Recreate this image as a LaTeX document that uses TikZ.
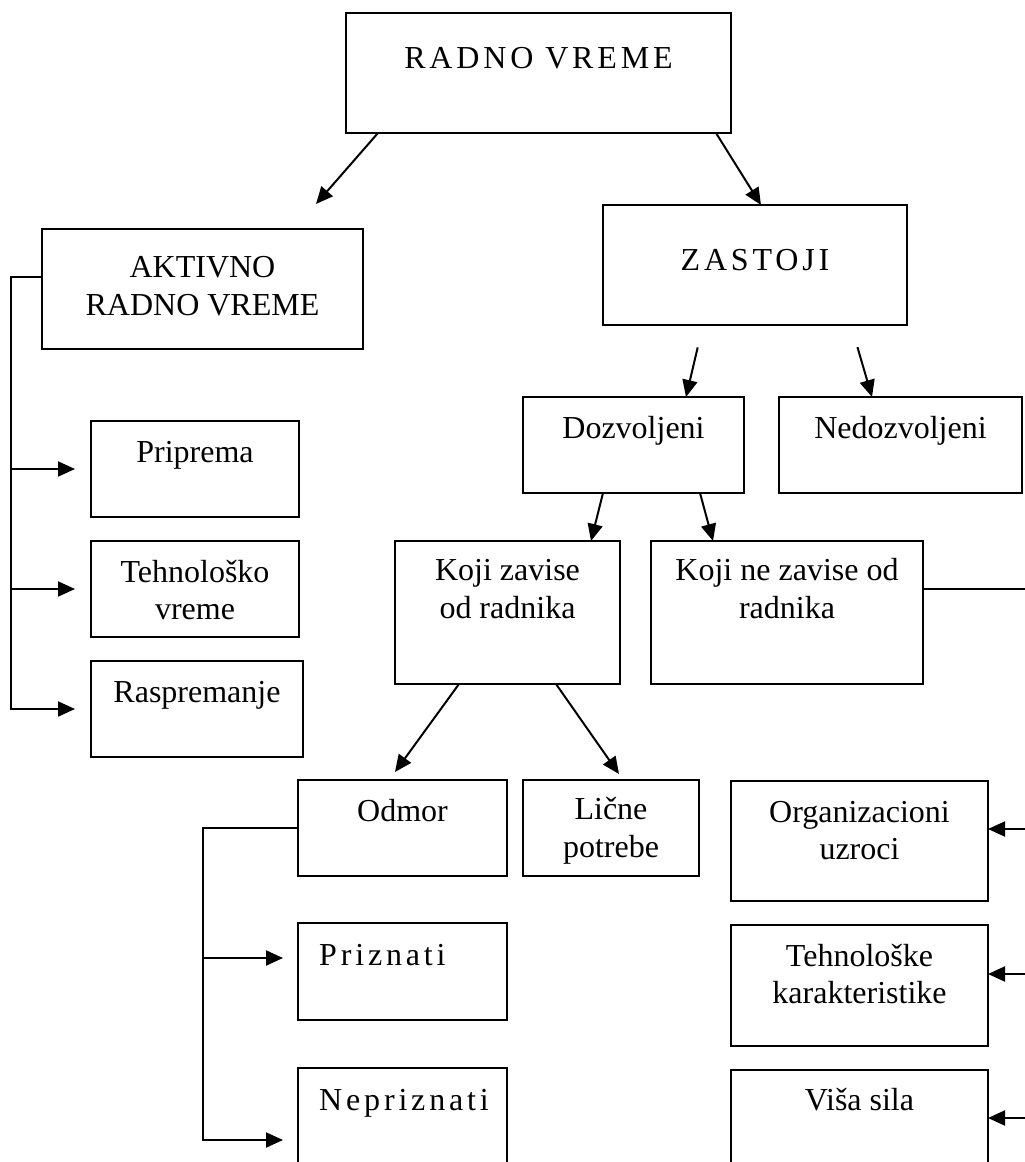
\documentclass[tikz,border=0pt]{standalone}
\usepackage{fontspec}
\setmainfont{Liberation Serif}
\newfontfamily\spacedfont[LetterSpace=12]{Liberation Serif}
\usetikzlibrary{arrows.meta,calc}

\tikzset{
  box/.style={draw, line width=2.2pt, rectangle, inner sep=0pt, outer sep=0pt},
  txt/.style={inner sep=0pt, align=center, font=\fontsize{32}{37}\selectfont},
  conn/.style={line width=2pt},
  arr/.style={conn, -{Triangle[length=17pt,width=15pt]}},
}

% \ubox{name}{x1}{y1}{x2}{y2}{offset of the last baseline}{text}
\newcommand\ubox[7]{%
  \pgfmathsetmacro\bw{#4-#2}\pgfmathsetmacro\bh{#5-#3}%
  \node[box, anchor=north west, minimum width=\bw pt, minimum height=\bh pt] (#1) at (#2,#3) {};
  \node[txt, anchor=base] (#1-t) at ($(#1.north)+(0,#6)$) {#7};%
}

\begin{document}
\begin{tikzpicture}[x=1pt, y=-1pt]
\useasboundingbox (0,0) rectangle (1025,1162);
\fill[white] (0,0) rectangle (1025,1162);
\clip (0,0) rectangle (1025,1162);

% top level
\ubox{rv}{346}{13}{731}{133}{55}{\spacedfont RADNO VREME}
\ubox{ak}{42}{229}{363}{349}{86}{AKTIVNO\\[1pt]RADNO VREME}
\ubox{za}{603}{205}{907}{325}{65}{\spacedfont ZASTOJI}

% stoppages
\ubox{dz}{523}{397}{744}{493}{41}{Dozvoljeni}
\ubox{nd}{779}{397}{1022}{493}{41}{Nedozvoljeni}
\ubox{kz}{395}{541}{620}{684}{77}{Koji zavise\\[1pt]od radnika}
\ubox{kn}{651}{541}{923}{684}{77}{Koji ne zavise od\\[1pt]radnika}

% active working time
\ubox{pp}{91}{421}{299}{517}{41}{Priprema}
\ubox{tv}{91}{541}{299}{637}{78}{Tehnološko\\vreme}
\ubox{rs}{91}{661}{303}{757}{41}{Raspremanje}

% breaks and personal needs
\ubox{od}{298}{780}{507}{876}{41}{Odmor}
\ubox{lp}{523}{780}{699}{876}{77}{Lične\\[1pt]potrebe}
\node[box, anchor=north west, minimum width=209pt, minimum height=97pt] (pz) at (298,923) {};
\node[txt, anchor=base west] (pz-t) at (319,965) {\spacedfont Priznati};
\node[box, anchor=north west, minimum width=209pt, minimum height=144pt] (np) at (298,1068) {};
\node[txt, anchor=base west] (np-t) at (319,1110) {\spacedfont Nepriznati};

% causes independent of the worker
\ubox{ou}{731}{781}{988}{901}{78}{Organizacioni\\uzroci}
\ubox{tk}{731}{925}{988}{1046}{78}{Tehnološke\\karakteristike}
\ubox{vs}{731}{1070}{988}{1166}{40}{Viša sila}

% arrows from the top box
\coordinate (e-ak) at (316,204);
\draw[arr] ([xshift=32pt]rv.south west) -- (e-ak);
\draw[arr] ([xshift=370pt]rv.south west) -- ([xshift=158pt]za.north west);

% arrows from ZASTOJI (starting below the box)
\draw[arr, shorten <=23pt] ([xshift=100pt]za.south west) -- ([xshift=163pt]dz.north west);
\draw[arr, shorten <=23pt] ([xshift=248pt]za.south west) -- ([xshift=93pt]nd.north west);

% arrows from Dozvoljeni
\draw[arr] ([xshift=80pt]dz.south west) -- ([xshift=196pt]kz.north west);
\draw[arr] ([xshift=177pt]dz.south west) -- ([xshift=62pt]kn.north west);

% arrows from Koji zavise od radnika
\coordinate (e-od) at (395,772);
\coordinate (e-lp) at (619,774);
\draw[arr] ([xshift=64pt]kz.south west) -- (e-od);
\draw[arr] ([xshift=161pt]kz.south west) -- (e-lp);

% left bracket of active working time
\coordinate (lt) at (11,277);
\draw[arr, shorten >=16pt] (ak.west |- lt) -- (lt) -- (lt |- rs.west) -- (rs.west);
\draw[arr, shorten >=16pt] (lt |- pp.west) -- (pp.west);
\draw[arr, shorten >=16pt] (lt |- tv.west) -- (tv.west);

% bracket of breaks
\coordinate (ot) at (203,828);
\draw[arr, shorten >=15pt] (od.west) -- (ot) -- (ot |- np.west) -- (np.west);
\draw[arr, shorten >=15pt] (ot |- 0,958) -- (pz.west |- 0,958);

% right bracket of independent causes
\coordinate (rt) at (1034,589);
\draw[conn] (kn.east |- rt) -- (rt) -- (rt |- vs.east);
\draw[arr] (rt |- 0,829) -- (ou.east |- 0,829);
\draw[arr] (rt |- 0,974) -- (tk.east |- 0,974);
\draw[arr] (rt |- vs.east) -- (vs.east);
\end{tikzpicture}
\end{document}
